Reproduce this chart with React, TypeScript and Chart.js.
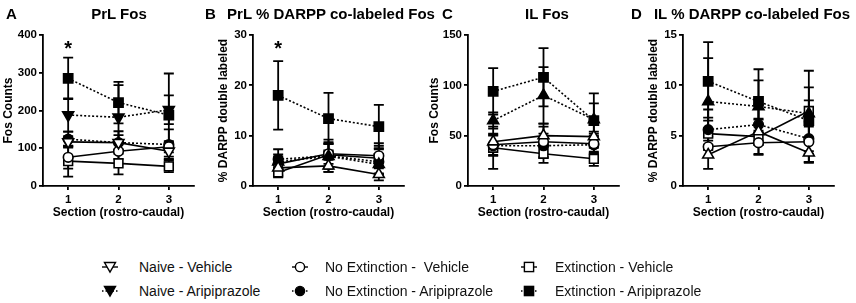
import React, { useEffect, useRef } from 'react';
import { Chart, registerables } from 'chart.js';

Chart.register(...registerables);

const FONT = '"Liberation Sans", Arial, Helvetica, sans-serif';

// ---- categories / ticks ----
const sections = [1, 2, 3];
const sectionLabels = ['1', '2', '3'];
const seriesNames = [
  'Naive - Vehicle',
  'Naive - Aripiprazole',
  'No Extinction -  Vehicle',
  'No Extinction - Aripiprazole',
  'Extinction - Vehicle',
  'Extinction - Aripiprazole',
];

// ---- Panel A: PrL Fos ----
const prlFosTicks = [0, 100, 200, 300, 400];
const prlFosNaiveVeh = [117, 115, 92];
const prlFosNaiveVehErr = [15, 20, 20];
const prlFosNaiveAri = [188, 182, 202];
const prlFosNaiveAriErr = [44, 85, 38];
const prlFosNoExtVeh = [76, 92, 104];
const prlFosNoExtVehErr = [30, 20, 15];
const prlFosNoExtAri = [124, 115, 110];
const prlFosNoExtAriErr = [20, 30, 40];
const prlFosExtVeh = [66, 60, 52];
const prlFosExtVehErr = [41, 29, 15];
const prlFosExtAri = [285, 221, 188];
const prlFosExtAriErr = [55, 55, 110];

// ---- Panel B: PrL % DARPP co-labeled Fos ----
const prlPctTicks = [0, 10, 20, 30];
const prlPctNaiveVeh = [3.6, 4.0, 2.3];
const prlPctNaiveVehErr = [1.5, 1.2, 1.2];
const prlPctNaiveAri = [4.8, 5.9, 4.3];
const prlPctNaiveAriErr = [1.5, 2.5, 2.0];
const prlPctNoExtVeh = [4.4, 6.4, 6.0];
const prlPctNoExtVehErr = [1.5, 2.0, 2.0];
const prlPctNoExtAri = [5.3, 6.0, 4.8];
const prlPctNoExtAriErr = [2.0, 3.2, 2.5];
const prlPctExtVeh = [2.7, 6.2, 5.5];
const prlPctExtVehErr = [1.0, 2.5, 3.0];
const prlPctExtAri = [18.0, 13.4, 11.8];
const prlPctExtAriErr = [6.8, 5.1, 4.3];

// ---- Panel C: IL Fos ----
const ilFosTicks = [0, 50, 100, 150];
const ilFosNaiveVeh = [44, 50, 49];
const ilFosNaiveVehErr = [8, 12, 5];
const ilFosNaiveAri = [65, 90, 66];
const ilFosNaiveAriErr = [8, 28, 16];
const ilFosNoExtVeh = [41, 44, 42];
const ilFosNoExtVehErr = [10, 15, 10];
const ilFosNoExtAri = [40, 40, 41];
const ilFosNoExtAriErr = [10, 12, 8];
const ilFosExtVeh = [38, 32, 27];
const ilFosExtVehErr = [21, 9, 7];
const ilFosExtAri = [94, 108, 65];
const ilFosExtAriErr = [23, 29, 27];

// ---- Panel D: IL % DARPP co-labeled Fos ----
const ilPctTicks = [0, 5, 10, 15];
const ilPctNaiveVeh = [3.1, 5.4, 3.3];
const ilPctNaiveVehErr = [1.4, 1.3, 1.0];
const ilPctNaiveAri = [8.4, 7.9, 7.2];
const ilPctNaiveAriErr = [4.3, 2.6, 1.3];
const ilPctNoExtVeh = [3.9, 4.3, 4.4];
const ilPctNoExtVehErr = [1.0, 1.2, 2.0];
const ilPctNoExtAri = [5.6, 6.1, 4.7];
const ilPctNoExtAriErr = [2.0, 2.0, 2.3];
const ilPctExtVeh = [5.2, 4.9, 7.45];
const ilPctExtVehErr = [1.6, 1.7, 4.0];
const ilPctExtAri = [10.4, 8.4, 6.5];
const ilPctExtAriErr = [3.9, 3.2, 3.3];

// significance markers (section, value) per panel
const prlFosStar = [1, 380];
const prlPctStar = [1, 28.4];

type Panel = {
  letter: string;
  title: string;
  yTitle: string;
  ticks: number[];
  values: number[][];
  errors: number[][];
  star: number[] | null;
  downTriangles: boolean;
  canvasLeft: number;
  yTitlePad: number;
  letterLeft: number;
  titleCenter: number;
};

const panels: Panel[] = [
  {
    letter: 'A', title: 'PrL Fos', yTitle: 'Fos Counts', ticks: prlFosTicks,
    values: [prlFosNaiveVeh, prlFosNaiveAri, prlFosNoExtVeh, prlFosNoExtAri, prlFosExtVeh, prlFosExtAri],
    errors: [prlFosNaiveVehErr, prlFosNaiveAriErr, prlFosNoExtVehErr, prlFosNoExtAriErr, prlFosExtVehErr, prlFosExtAriErr],
    star: prlFosStar, downTriangles: true, canvasLeft: 0, yTitlePad: 1, letterLeft: 6, titleCenter: 119,
  },
  {
    letter: 'B', title: 'PrL % DARPP co-labeled Fos', yTitle: '% DARPP double labeled', ticks: prlPctTicks,
    values: [prlPctNaiveVeh, prlPctNaiveAri, prlPctNoExtVeh, prlPctNoExtAri, prlPctExtVeh, prlPctExtAri],
    errors: [prlPctNaiveVehErr, prlPctNaiveAriErr, prlPctNoExtVehErr, prlPctNoExtAriErr, prlPctExtVehErr, prlPctExtAriErr],
    star: prlPctStar, downTriangles: false, canvasLeft: 210, yTitlePad: 6, letterLeft: 205, titleCenter: 331,
  },
  {
    letter: 'C', title: 'IL Fos', yTitle: 'Fos Counts', ticks: ilFosTicks,
    values: [ilFosNaiveVeh, ilFosNaiveAri, ilFosNoExtVeh, ilFosNoExtAri, ilFosExtVeh, ilFosExtAri],
    errors: [ilFosNaiveVehErr, ilFosNaiveAriErr, ilFosNoExtVehErr, ilFosNoExtAriErr, ilFosExtVehErr, ilFosExtAriErr],
    star: null, downTriangles: false, canvasLeft: 425, yTitlePad: 2, letterLeft: 442, titleCenter: 547,
  },
  {
    letter: 'D', title: 'IL % DARPP co-labeled Fos', yTitle: '% DARPP double labeled', ticks: ilPctTicks,
    values: [ilPctNaiveVeh, ilPctNaiveAri, ilPctNoExtVeh, ilPctNoExtAri, ilPctExtVeh, ilPctExtAri],
    errors: [ilPctNaiveVehErr, ilPctNaiveAriErr, ilPctNoExtVehErr, ilPctNoExtAriErr, ilPctExtVehErr, ilPctExtAriErr],
    star: null, downTriangles: false, canvasLeft: 640, yTitlePad: 6, letterLeft: 631, titleCenter: 752,
  },
];

// series styling
const seriesStyle: { dotted: boolean; filled: boolean; shape: string; radius: number }[] = [
  { dotted: false, filled: false, shape: 'triangle', radius: 6.3 },
  { dotted: true, filled: true, shape: 'triangle', radius: 6.3 },
  { dotted: false, filled: false, shape: 'circle', radius: 4.8 },
  { dotted: true, filled: true, shape: 'circle', radius: 4.8 },
  { dotted: false, filled: false, shape: 'rect', radius: 6.2 },
  { dotted: true, filled: true, shape: 'rect', radius: 6.5 },
];

const CANVAS_W = 204;
const CANVAS_H = 225;

function makeOverlay(panel: Panel) {
  return {
    id: 'overlay' + panel.letter,
    beforeDatasetsDraw(chart: any) {
      const ctx = chart.ctx;
      const ys = chart.scales.y;
      ctx.save();
      ctx.strokeStyle = '#000';
      ctx.lineWidth = 1.8;
      chart.data.datasets.forEach((ds: any, di: number) => {
        const meta = chart.getDatasetMeta(di);
        meta.data.forEach((pt: any, i: number) => {
          const v = ds.data[i].y;
          const e = ds.errors[i];
          const x = pt.x;
          const yt = ys.getPixelForValue(v + e);
          const yb = ys.getPixelForValue(Math.max(0, v - e));
          ctx.beginPath();
          ctx.moveTo(x, yt);
          ctx.lineTo(x, yb);
          ctx.moveTo(x - 5, yt);
          ctx.lineTo(x + 5, yt);
          ctx.moveTo(x - 5, yb);
          ctx.lineTo(x + 5, yb);
          ctx.stroke();
        });
      });
      ctx.restore();
    },
    afterDatasetsDraw(chart: any) {
      if (!panel.star) return;
      const ctx = chart.ctx;
      const x = chart.scales.x.getPixelForValue(panel.star[0]);
      const y = chart.scales.y.getPixelForValue(panel.star[1]);
      ctx.save();
      ctx.fillStyle = '#000';
      ctx.font = `bold 20px ${FONT}`;
      ctx.textAlign = 'center';
      ctx.textBaseline = 'alphabetic';
      ctx.fillText('*', x, y + 12);
      ctx.restore();
    },
  };
}

function PanelChart({ panel }: { panel: Panel }) {
  const ref = useRef<HTMLCanvasElement | null>(null);
  useEffect(() => {
    if (!ref.current) return;
    const yMax = panel.ticks[panel.ticks.length - 1];
    const datasets = panel.values.map((vals, si) => {
      const st = seriesStyle[si];
      return {
        label: seriesNames[si],
        data: sections.map((s, i) => ({ x: s, y: vals[i] })),
        errors: panel.errors[si],
        borderColor: '#000',
        borderWidth: 1.6,
        borderDash: st.dotted ? [2, 2] : [],
        tension: 0,
        fill: false,
        pointStyle: st.shape,
        pointRotation: st.shape === 'triangle' && panel.downTriangles ? 180 : 0,
        pointRadius: st.radius,
        pointBackgroundColor: st.filled ? '#000' : '#fff',
        pointBorderColor: '#000',
        pointBorderWidth: 1.6,
      } as any;
    });
    const tickFont = { family: FONT, size: 11.5, weight: 'bold' as const };
    const titleFont = { family: FONT, size: 12, weight: 'bold' as const };
    const chart = new Chart(ref.current, {
      type: 'line',
      data: { datasets },
      options: {
        animation: false,
        responsive: false,
        devicePixelRatio: 1,
        layout: { padding: { top: 35, right: 10, left: 0, bottom: 0 } },
        plugins: {
          legend: { display: false },
          tooltip: { enabled: false },
          title: { display: false },
        },
        scales: {
          x: {
            type: 'linear',
            min: 0.5,
            max: 3.5,
            afterBuildTicks: (s: any) => {
              s.ticks = sections.map((v) => ({ value: v }));
            },
            afterFit: (s: any) => {
              s.height = 39;
            },
            ticks: {
              callback: (v: any) => {
                const k = sections.indexOf(Number(v));
                return k >= 0 ? sectionLabels[k] : '';
              },
              font: tickFont,
              color: '#000',
              padding: 3,
              maxRotation: 0,
              autoSkip: false,
            },
            grid: { drawOnChartArea: false, drawTicks: true, tickLength: 4, color: '#000', lineWidth: 1.8 },
            border: { display: true, color: '#000', width: 1.8 },
            title: {
              display: true,
              text: 'Section (rostro-caudal)',
              font: titleFont,
              color: '#000',
              padding: { top: 0, bottom: 5 },
            },
          },
          y: {
            type: 'linear',
            min: 0,
            max: yMax,
            afterBuildTicks: (s: any) => {
              s.ticks = panel.ticks.map((v) => ({ value: v }));
            },
            afterFit: (s: any) => {
              s.width = 43;
            },
            ticks: { font: tickFont, color: '#000', padding: 2 },
            grid: { drawOnChartArea: false, drawTicks: true, tickLength: 4, color: '#000', lineWidth: 1.8 },
            border: { display: true, color: '#000', width: 1.8 },
            title: {
              display: true,
              text: panel.yTitle,
              font: titleFont,
              color: '#000',
              padding: { top: panel.yTitlePad, bottom: 0 },
            },
          },
        },
      } as any,
      plugins: [makeOverlay(panel)],
    });
    return () => chart.destroy();
  }, [panel]);
  return (
    <canvas
      ref={ref}
      width={CANVAS_W}
      height={CANVAS_H}
      style={{ position: 'absolute', left: panel.canvasLeft, top: 0, width: CANVAS_W, height: CANVAS_H }}
    />
  );
}

function LegendIcon({ index }: { index: number }) {
  const st = seriesStyle[index];
  const cx = 8;
  const cy = 7;
  const fill = st.filled ? '#000' : '#fff';
  let marker: React.ReactNode = null;
  if (st.shape === 'triangle') {
    marker = <polygon points={`${cx - 5.5},${cy - 4.5} ${cx + 5.5},${cy - 4.5} ${cx},${cy + 5}`} fill={fill} stroke="#000" strokeWidth={1.4} />;
  } else if (st.shape === 'circle') {
    marker = <circle cx={cx} cy={cy} r={4.6} fill={fill} stroke="#000" strokeWidth={1.4} />;
  } else {
    marker = <rect x={cx - 4.6} y={cy - 4.6} width={9.2} height={9.2} fill={fill} stroke="#000" strokeWidth={1.4} />;
  }
  return (
    <svg width={16} height={14} style={{ position: 'absolute', left: 0, top: 0 }}>
      <line x1={0} y1={cy} x2={16} y2={cy} stroke="#000" strokeWidth={1.4} strokeDasharray={st.dotted ? '1.5 2' : undefined} />
      {marker}
    </svg>
  );
}

const legendCols = [
  { iconLeft: 102, textLeft: 139 },
  { iconLeft: 292, textLeft: 325 },
  { iconLeft: 521, textLeft: 555 },
];
const legendRows = [267, 291];

export default function App() {
  return (
    <div style={{ position: 'fixed', left: 0, top: 0, width: 856, height: 303, background: '#fff', overflow: 'hidden' }}>
      {panels.map((p) => (
        <React.Fragment key={p.letter}>
          <PanelChart panel={p} />
          <div style={{ position: 'absolute', left: p.letterLeft, top: 6, font: `bold 15px ${FONT}`, lineHeight: '15px', color: '#000' }}>
            {p.letter}
          </div>
          <div
            style={{
              position: 'absolute', left: p.titleCenter - 150, width: 300, top: 6, textAlign: 'center',
              font: `bold 15px ${FONT}`, lineHeight: '15px', color: '#000', whiteSpace: 'nowrap',
            }}
          >
            {p.title}
          </div>
        </React.Fragment>
      ))}
      {seriesNames.map((name, i) => {
        const col = legendCols[Math.floor(i / 2)];
        const rowY = legendRows[i % 2];
        return (
          <React.Fragment key={name}>
            <div style={{ position: 'absolute', left: col.iconLeft, top: rowY - 7, width: 16, height: 14 }}>
              <LegendIcon index={i} />
            </div>
            <div
              style={{
                position: 'absolute', left: col.textLeft, top: rowY - 8, font: `14px ${FONT}`,
                lineHeight: '16px', color: '#111', whiteSpace: 'pre',
              }}
            >
              {name}
            </div>
          </React.Fragment>
        );
      })}
    </div>
  );
}
